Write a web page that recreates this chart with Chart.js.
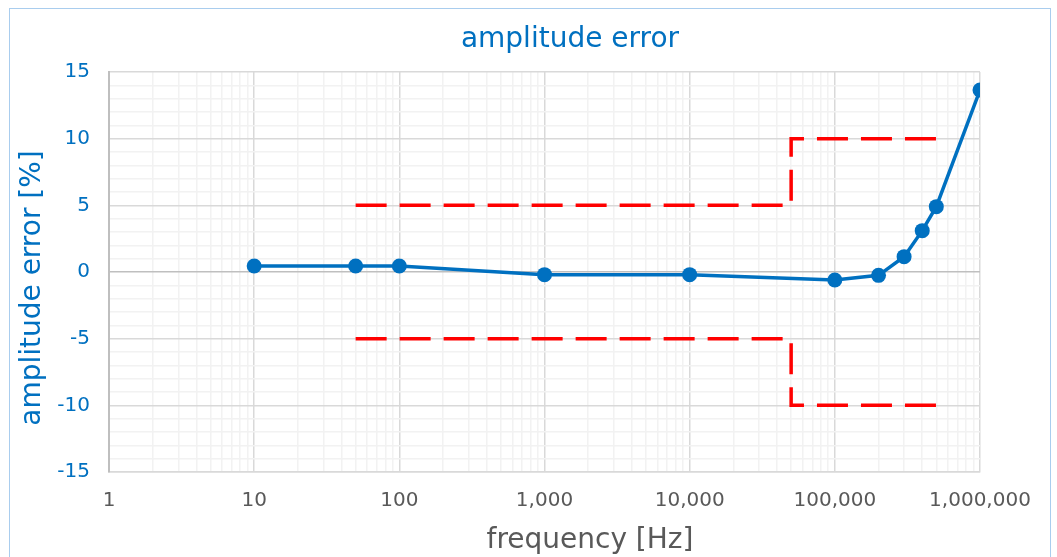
<!DOCTYPE html>
<html>
<head>
<meta charset="utf-8">
<script src="https://cdn.jsdelivr.net/npm/chart.js@4/dist/chart.umd.min.js"></script>
<style>
  html, body { margin: 0; padding: 0; background: #fff; }
  #wrap { position: relative; width: 1057px; height: 557px; }
  #frame {
    position: absolute; left: 9px; top: 8px; width: 1042px; height: 560px;
    border: 1px solid #a9cdee; box-sizing: border-box; pointer-events: none;
  }
  canvas { position: absolute; left: 0; top: 0; }
</style>
</head>
<body>
<div id="wrap">
  <canvas id="graficoErro" width="1057" height="557"></canvas>
  <div id="frame"></div>
</div>
<script>
// Medições: frequência [Hz] e erro de amplitude [%]
const freq = [10, 50, 100, 1000, 10000, 100000, 200000, 300000, 400000, 500000, 1000000];
const erro = [0.45, 0.45, 0.45, -0.2, -0.2, -0.6, -0.25, 1.15, 3.1, 4.9, 13.65];

// Limites de tolerância (tracejado vermelho)
const limiteFreq = [50, 50000, 50000, 500000];
const limiteSup = [5, 5, 10, 10];
const limiteInf = [-5, -5, -10, -10];

// Ticks do eixo x: 1..9 em cada década, rótulo só nas potências de 10
const decadas = [1, 10, 100, 1000, 10000, 100000, 1000000];
const xTicks = [];
decadas.forEach((d) => {
  for (let m = 1; m <= 9; m++) {
    if (d * m <= 1000000) xTicks.push(d * m);
  }
});

const azul = "#0070c0";
const cinza = "#595959";
const fonte = "'DejaVu Sans', Verdana, sans-serif";

const pontos = (xs, ys) => xs.map((x, i) => ({ x, y: ys[i] }));
const isDecada = (v) => decadas.includes(v);

const linhaLimite = (data) => ({
  data,
  borderColor: "#ff0000",
  borderWidth: 3.5,
  borderDash: [31, 13],
  pointRadius: 0,
  showLine: true,
  fill: false,
});

// Títulos desenhados à mão, no estilo do Excel (fora do centro do gráfico)
const titulos = {
  id: "titulos",
  afterDraw(chart) {
    const { ctx, chartArea } = chart;
    ctx.save();
    ctx.font = "28px " + fonte;
    ctx.textAlign = "center";
    ctx.textBaseline = "middle";

    ctx.fillStyle = azul;
    ctx.fillText("amplitude error", 570, chartArea.top - 32);

    ctx.fillStyle = cinza;
    ctx.fillText("frequency [Hz]", 590, chartArea.bottom + 69);

    ctx.fillStyle = azul;
    ctx.translate(33, chartArea.top + 216);
    ctx.rotate(-Math.PI / 2);
    ctx.fillText("amplitude error [%]", 0, 0);
    ctx.restore();
  },
};

new Chart(document.getElementById("graficoErro").getContext("2d"), {
  type: "scatter",
  data: {
    datasets: [
      {
        data: pontos(freq, erro),
        borderColor: azul,
        backgroundColor: azul,
        borderWidth: 3.5,
        pointRadius: 7.5,
        pointBorderWidth: 0,
        showLine: true,
        order: 0,
      },
      { ...linhaLimite(pontos(limiteFreq, limiteSup)), order: 1 },
      { ...linhaLimite(pontos(limiteFreq, limiteInf)), order: 1 },
    ],
  },
  options: {
    responsive: false,
    animation: false,
    layout: { padding: { left: 0, right: 77, top: 72, bottom: 0 } },
    plugins: {
      legend: { display: false },
      tooltip: { enabled: false },
      title: { display: false },
    },
    scales: {
      x: {
        type: "logarithmic",
        min: 1,
        max: 1000000,
        afterBuildTicks: (scale) => {
          scale.ticks = xTicks.map((v) => ({ value: v, major: isDecada(v) }));
        },
        afterFit: (scale) => { scale.height = 85; },
        ticks: {
          autoSkip: false,
          maxRotation: 0,
          padding: 17,
          color: cinza,
          font: { family: fonte, size: 20 },
          callback: (v) => (isDecada(v) ? v.toLocaleString("en-US") : ""),
        },
        grid: {
          drawTicks: false,
          color: (ctx) => (ctx.tick && isDecada(ctx.tick.value) ? "#d9d9d9" : "#f2f2f2"),
          lineWidth: 1.5,
        },
        border: { color: "#d9d9d9", width: 1.5 },
      },
      y: {
        min: -15,
        max: 15,
        afterFit: (scale) => { scale.width = 109; },
        ticks: {
          stepSize: 1,
          autoSkip: false,
          padding: 19,
          color: azul,
          font: { family: fonte, size: 20 },
          callback: (v) => (v % 5 === 0 ? v : ""),
        },
        grid: {
          drawTicks: false,
          color: (ctx) => {
            const v = ctx.tick ? ctx.tick.value : null;
            if (v === 0) return "#bfbfbf";
            return v % 5 === 0 ? "#d9d9d9" : "#f2f2f2";
          },
          lineWidth: 1.5,
        },
        border: { color: "#bfbfbf", width: 2 },
      },
    },
  },
  plugins: [titulos],
});
</script>
</body>
</html>
